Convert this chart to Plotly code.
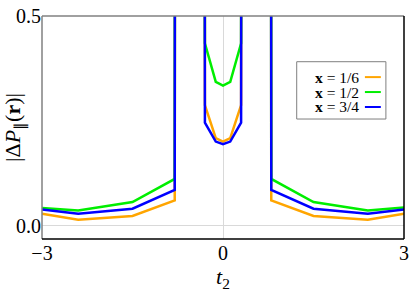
# polarisation difference |dP(r)| versus t2 for three values of x

import plotly.graph_objects as go

# sample points in t2 (the curves blow up near t2 = +-0.55)
t2 = [-3, -2.4, -1.5, -0.8, -0.55, -0.3, -0.12, 0, 0.12, 0.3, 0.55, 0.8, 1.5, 2.4, 3]

# values, 50 stands for the divergence
dp_x16 = [0.029, 0.015, 0.024, 0.061, 50, 0.288, 0.209, 0.201, 0.209, 0.288, 50, 0.061, 0.024, 0.015, 0.029]
dp_x12 = [0.043, 0.037, 0.057, 0.112, 50, 0.435, 0.343, 0.334, 0.343, 0.435, 50, 0.112, 0.057, 0.037, 0.044]
dp_x34 = [0.039, 0.029, 0.041, 0.086, 50, 0.246, 0.201, 0.195, 0.201, 0.246, 50, 0.086, 0.041, 0.029, 0.039]

labels = ["<b>x</b> = 1/6", "<b>x</b> = 1/2", "<b>x</b> = 3/4"]
colors = ["#FFA500", "#00EE00", "#0000FF"]

font = "Liberation Serif"

fig = go.Figure()
for y, name, c in zip([dp_x16, dp_x12, dp_x34], labels, colors):
    fig.add_trace(go.Scatter(x=t2, y=y, mode="lines", name=name,
                             line=dict(color=c, width=2.5), showlegend=False))

# hand made legend, lines to the right of the text like pgfplots
rows = [0.726, 0.659, 0.592]
for name, c, ry in zip(labels, colors, rows):
    fig.add_annotation(xref="paper", yref="paper", x=0.878, y=ry, text=name,
                       showarrow=False, xanchor="right", yanchor="middle", borderpad=0,
                       font=dict(family=font, size=15.5, color="black"))
    fig.add_shape(type="line", xref="paper", yref="paper", x0=0.892, x1=0.936,
                  y0=ry, y1=ry, line=dict(color=c, width=2))
fig.add_shape(type="rect", xref="paper", yref="paper", x0=0.7036, x1=0.950,
              y0=0.538, y1=0.795, line=dict(color="#7f7f7f", width=1), fillcolor="white",
              layer="below")

# frame: grey top/left, black bottom/right
fig.add_shape(type="line", xref="paper", yref="paper", x0=0, x1=1, y0=1, y1=1, line=dict(color="#808080", width=1.5))
fig.add_shape(type="line", xref="paper", yref="paper", x0=0, x1=0, y0=0, y1=1, line=dict(color="#808080", width=1.5))
fig.add_shape(type="line", xref="paper", yref="paper", x0=0, x1=1, y0=0, y1=0, line=dict(color="black", width=1.5))
fig.add_shape(type="line", xref="paper", yref="paper", x0=1, x1=1, y0=0, y1=1, line=dict(color="black", width=1.5))

fig.update_xaxes(range=[-3, 3], tickvals=[-3, 0, 3], showgrid=False, automargin=False,
                 zeroline=True, zerolinecolor="#d9d9d9", zerolinewidth=1,
                 showline=False, ticks="", ticklabeloverflow="allow",
                 tickfont=dict(family=font, size=20, color="black"),
                 title=dict(text="<i>t</i><sub>2</sub>", standoff=2,
                            font=dict(family=font, size=22, color="black")))
fig.update_yaxes(range=[-0.031, 0.5], tickvals=[0, 0.5], ticktext=["0.0", "0.5"],
                 showgrid=False, zeroline=True, zerolinecolor="#d9d9d9", zerolinewidth=1,
                 showline=False, ticks="", automargin=False, ticklabeloverflow="allow",
                 tickfont=dict(family=font, size=20, color="black"),
                 title=dict(text="|Δ<i>P</i><sub>∥</sub>(<b>r</b>)|", standoff=2,
                            font=dict(family=font, size=22, color="black")))

fig.update_layout(width=415, height=297, margin=dict(l=42, r=11, t=16, b=58),
                  plot_bgcolor="white", paper_bgcolor="white")
# drop the default 8px body margin so the figure fills the window
fig.write_html("out.html", config={"displayModeBar": False},
               post_script="document.body.style.margin='0';")
